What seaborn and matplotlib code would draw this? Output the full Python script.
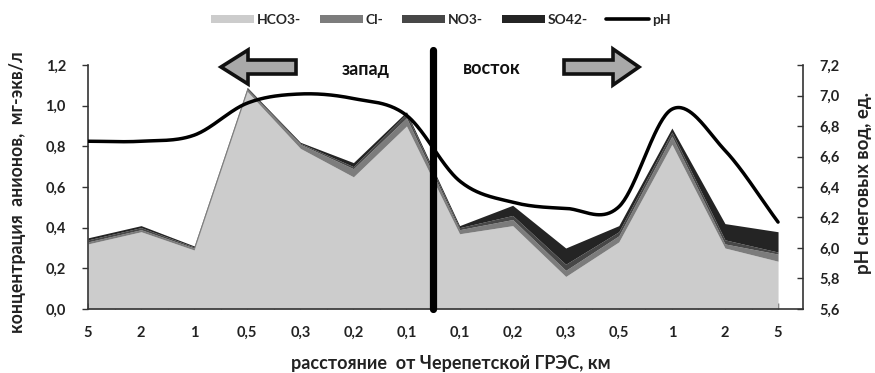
import numpy as np
import pandas as pd
import matplotlib
matplotlib.use("Agg")
import matplotlib.pyplot as plt
import matplotlib.patches as mpatches
import matplotlib.lines as mlines
import seaborn as sns

# Distance categories (km) west and east of the power station
distance_labels = ["5", "2", "1", "0,5", "0,3", "0,2", "0,1",
                   "0,1", "0,2", "0,3", "0,5", "1", "2", "5"]

# Anion concentrations in snow water, mg-eq/l
hco3 = [0.32, 0.38, 0.29, 1.07, 0.79, 0.65, 0.90, 0.37, 0.41, 0.16, 0.33, 0.81, 0.30, 0.235]
cl   = [0.01, 0.01, 0.01, 0.01, 0.02, 0.04, 0.04, 0.02, 0.03, 0.03, 0.03, 0.04, 0.02, 0.035]
no3  = [0.01, 0.01, 0.005, 0.005, 0.005, 0.01, 0.02, 0.01, 0.02, 0.03, 0.02, 0.02, 0.02, 0.01]
so4  = [0.01, 0.01, 0.005, 0.005, 0.005, 0.02, 0.01, 0.01, 0.05, 0.08, 0.03, 0.02, 0.08, 0.10]

# pH of snow water
ph = [6.70, 6.70, 6.74, 6.95, 7.01, 6.98, 6.87, 6.44, 6.30, 6.26, 6.27, 6.91, 6.64, 6.17]

series_names = ["HCO3-", "Cl-", "NO3-", "SO42-"]
series_colors = ["#cccccc", "#7c7c7c", "#474747", "#242424"]

sns.set_theme(style="white")
plt.rcParams["font.family"] = ["Lato", "DejaVu Sans"]

W, H = 875, 373
fig = plt.figure(figsize=(W / 100, H / 100), dpi=100)
ax = fig.add_axes([88 / W, 1 - 309 / H, (803 - 88) / W, (309 - 65) / H])
ax2 = ax.twinx()

x = np.arange(len(distance_labels))

# stacked anion areas
ax.stackplot(x, hco3, cl, no3, so4, colors=series_colors,
             linewidth=0, zorder=2)

# smooth pH curve (cardinal spline through the measured values)
def smooth_curve(xs, ys, steps=40):
    xs = np.asarray(xs, float)
    ys = np.asarray(ys, float)
    n = len(ys)
    m = np.empty(n)
    m[1:-1] = (ys[2:] - ys[:-2]) / 2
    m[0] = ys[1] - ys[0]
    m[-1] = ys[-1] - ys[-2]
    px, py = [], []
    t = np.linspace(0, 1, steps, endpoint=False)
    for i in range(n - 1):
        h00 = 2 * t**3 - 3 * t**2 + 1
        h10 = t**3 - 2 * t**2 + t
        h01 = -2 * t**3 + 3 * t**2
        h11 = t**3 - t**2
        py.append(h00 * ys[i] + h10 * m[i] + h01 * ys[i + 1] + h11 * m[i + 1])
        px.append(xs[i] + t * (xs[i + 1] - xs[i]))
    px.append([xs[-1]])
    py.append([ys[-1]])
    return np.concatenate(px), np.concatenate(py)

sx, sy = smooth_curve(x, ph)
ph_df = pd.DataFrame({"x": sx, "ph": sy})
sns.lineplot(data=ph_df, x="x", y="ph", ax=ax2, color="black",
             linewidth=2.5, sort=False, zorder=4)
ax2.set_xlabel("")

# west / east divider
ax.axvline(6.5, ymin=0, ymax=1.062, color="black", linewidth=5.2,
           clip_on=False, zorder=5)

ax.set_xlim(0, 13.47)
ax.set_ylim(0, 1.2)
ax2.set_ylim(5.6, 7.2)

ax.set_xticks(x)
ax.set_xticklabels(distance_labels, fontsize=10.5, fontweight="bold", color="#222222")
ax.set_xticks(np.arange(0.5, 13.5, 1.0), minor=True)
ax.tick_params(axis="x", which="both", direction="in", length=4, width=1,
               color="#333333", pad=12, bottom=True)

yt = np.round(np.arange(0, 1.21, 0.2), 1)
ax.set_yticks(yt)
ax.set_yticklabels([f"{v:.1f}".replace(".", ",") for v in yt],
                   fontsize=10.5, fontweight="bold", color="#222222")
ax.tick_params(axis="y", direction="out", length=4, width=1, color="#333333",
               pad=12, left=True)

yt2 = np.round(np.arange(5.6, 7.21, 0.2), 1)
ax2.set_yticks(yt2)
ax2.set_yticklabels([f"{v:.1f}".replace(".", ",") for v in yt2],
                    fontsize=10.5, fontweight="bold", color="#222222")
ax2.tick_params(axis="y", direction="in", length=4, width=1, color="#333333",
                pad=12, right=True)
ax2.set_ylabel("")
ax.set_ylabel("")

for a in (ax, ax2):
    a.spines["top"].set_visible(False)
    for s in ("left", "right", "bottom"):
        a.spines[s].set_color("#333333")
        a.spines[s].set_linewidth(1.2)
    a.grid(False)
ax2.spines["left"].set_visible(False)
ax2.spines["bottom"].set_visible(False)
ax.spines["right"].set_visible(False)
ax2.spines["right"].set_visible(True)

# axis titles
fig.text(451 / W, 1 - 363 / H, "расстояние  от Черепетской ГРЭС, км",
         ha="center", va="center", fontsize=13, fontweight="bold", color="#222222")
fig.text(18 / W, 1 - 192 / H, "концентрация  анионов,  мг-экв/л",
         ha="center", va="center", rotation=90, fontsize=12.7,
         fontweight="bold", color="#222222")
fig.text(864 / W, 1 - 183 / H, "pH снеговых вод, ед.",
         ha="center", va="center", rotation=90, fontsize=13.5,
         fontweight="bold", color="#222222")

# direction labels
fig.text(366 / W, 1 - 69 / H, "запад", ha="center", va="center",
         fontsize=13, fontweight="bold", color="#111111")
fig.text(492 / W, 1 - 68 / H, "восток", ha="center", va="center",
         fontsize=13, fontweight="bold", color="#111111")

def arrow(tip, base, tail, y0, half_head, half_shaft):
    pts = [(tip, y0), (base, y0 - half_head), (base, y0 - half_shaft),
           (tail, y0 - half_shaft), (tail, y0 + half_shaft),
           (base, y0 + half_shaft), (base, y0 + half_head)]
    pts = [(px / W, 1 - py / H) for px, py in pts]
    fig.patches.append(mpatches.Polygon(pts, closed=True, transform=fig.transFigure,
                                        facecolor="#a9a9a9", edgecolor="#111111",
                                        linewidth=2.6, joinstyle="miter"))

arrow(221, 248, 296, 67, 17, 7)
arrow(639, 613, 564, 67, 18, 7)

# legend
handles = [mpatches.Patch(facecolor=c, edgecolor="none", label=n)
           for n, c in zip(series_names, series_colors)]
handles.append(mlines.Line2D([], [], color="black", linewidth=2.6, label="pH"))
fig.legend(handles=handles, loc="center", bbox_to_anchor=(441 / W, 1 - 20 / H),
           ncol=5, frameon=False, handlelength=3.1, handleheight=0.55,
           handletextpad=0.2, columnspacing=1.35, borderaxespad=0,
           prop={"weight": "bold", "size": 10})

fig.savefig("out.png", dpi=100)
